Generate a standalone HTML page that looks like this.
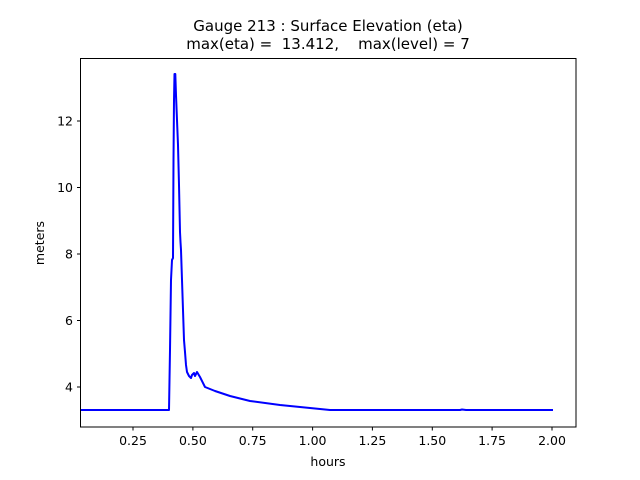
<!DOCTYPE html>
<html><head><style>
body{margin:0;background:#fff;}
svg{display:block;font-family:"DejaVu Sans","Liberation Sans",sans-serif;}
</style></head><body>
<svg width="640" height="480" viewBox="0 0 640 480">
<rect width="640" height="480" fill="#fff"/>
<polyline fill="none" stroke="#0000ff" stroke-width="2" stroke-linejoin="round" points="80,410 169,410 170,350 171,280 172,260 173,258 173.5,160 174,100 174.5,74 175.3,74 176,95 177,120 178,145 179,185 180,232 180.5,242 181,250 182,280 183,310 184,340 185,352 186,365 187,372 189,376 191,378 192,375 193,374 194,373 195,376 197,372 200,377 205,387 215,391 230,396 250,401 280,405 310,408 330,410 460,410 462,409.5 466,410 553,410"/>
<rect x="80.5" y="58.5" width="495.5" height="368.5" fill="none" stroke="#000" stroke-width="1"/>
<g stroke="#000" stroke-width="1">
<line x1="133" y1="427" x2="133" y2="430.5"/>
<line x1="192.9" y1="427" x2="192.9" y2="430.5"/>
<line x1="252.7" y1="427" x2="252.7" y2="430.5"/>
<line x1="312.6" y1="427" x2="312.6" y2="430.5"/>
<line x1="372.4" y1="427" x2="372.4" y2="430.5"/>
<line x1="432.3" y1="427" x2="432.3" y2="430.5"/>
<line x1="492.1" y1="427" x2="492.1" y2="430.5"/>
<line x1="552" y1="427" x2="552" y2="430.5"/>
<line x1="77" y1="387" x2="80.5" y2="387"/>
<line x1="77" y1="320.5" x2="80.5" y2="320.5"/>
<line x1="77" y1="254" x2="80.5" y2="254"/>
<line x1="77" y1="187.5" x2="80.5" y2="187.5"/>
<line x1="77" y1="121" x2="80.5" y2="121"/>
</g>
<g font-size="12.5" fill="#000" text-anchor="middle">
<text x="133" y="445">0.25</text>
<text x="192.9" y="445">0.50</text>
<text x="252.7" y="445">0.75</text>
<text x="312.6" y="445">1.00</text>
<text x="372.4" y="445">1.25</text>
<text x="432.3" y="445">1.50</text>
<text x="492.1" y="445">1.75</text>
<text x="552" y="445">2.00</text>
<text x="328" y="466">hours</text>
</g>
<g font-size="12.5" fill="#000" text-anchor="end">
<text x="73" y="391.5">4</text>
<text x="73" y="325">6</text>
<text x="73" y="258.5">8</text>
<text x="73" y="192">10</text>
<text x="73" y="125.5">12</text>
</g>
<text transform="translate(44,243) rotate(-90)" font-size="12.5" text-anchor="middle">meters</text>
<g font-size="15" text-anchor="middle" fill="#000">
<text x="328" y="31">Gauge 213 : Surface Elevation (eta)</text>
<text x="328" y="49" xml:space="preserve">max(eta) =  13.412,    max(level) = 7</text>
</g>
</svg>
</body></html>
